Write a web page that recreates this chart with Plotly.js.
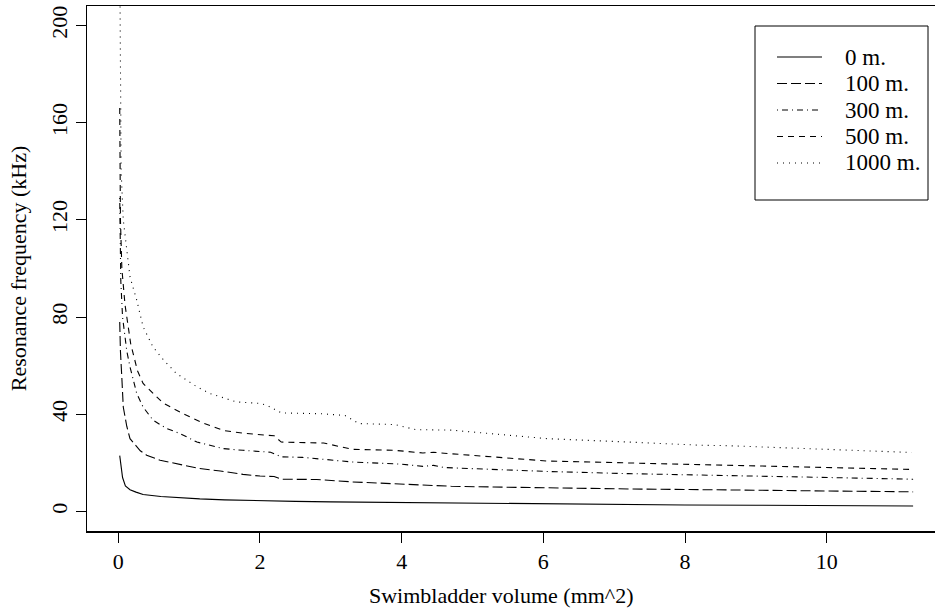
<!DOCTYPE html>
<html>
<head>
<meta charset="utf-8">
<script src="https://cdn.plot.ly/plotly-3.0.1.min.js"></script>
<style>html,body{margin:0;padding:0;background:#fff;overflow:hidden}</style>
</head>
<body>
<div id="chart" style="width:935px;height:611px"></div>
<script>
// Swimbladder volume (mm^2) and resonance frequency (kHz)
const x0 = [0.02, 0.04, 0.06, 0.1, 0.165, 0.25, 0.35, 0.6, 0.82, 1.15, 1.5, 2.0, 2.5, 3.0, 4.0, 5.0, 6.0, 7.0, 8.0, 9.0, 10.0, 11.22];
const y0 = [23, 17, 14, 10.5, 9, 8, 7, 6.2, 5.7, 5.2, 4.8, 4.4, 4.2, 4.0, 3.7, 3.3, 3.0, 2.9, 2.7, 2.6, 2.5, 2.3];

const x100 = [0.02, 0.03, 0.05, 0.07, 0.12, 0.165, 0.31, 0.4, 0.59, 0.82, 1.15, 1.44, 1.76, 2.0, 2.2, 2.3, 2.8, 3.3, 4.0, 4.7, 5.3, 6.05, 7.2, 8.6, 9.7, 11.22];
const y100 = [78, 66, 55, 43, 35, 30, 25, 23.2, 21.1, 19.7, 17.7, 16.7, 15.3, 14.6, 14.4, 13.3, 13.2, 12.2, 11.2, 10.4, 10.1, 9.9, 9.3, 8.9, 8.5, 8.1];

const x300 = [0.02, 0.035, 0.06, 0.095, 0.12, 0.165, 0.26, 0.35, 0.49, 0.68, 0.87, 1.11, 1.29, 1.48, 1.76, 2.0, 2.15, 2.3, 2.6, 3.3, 4.0, 4.3, 4.45, 4.6, 5.3, 6.05, 7.2, 8.2, 8.6, 9.7, 11.22];
const y300 = [129, 95, 80, 72, 66, 59.5, 48.6, 43, 37.6, 34.2, 32.1, 28.6, 27.3, 25.9, 25.2, 24.7, 24.4, 22.5, 22.3, 20.4, 19.5, 18.6, 19.0, 18.1, 17.3, 16.5, 15.6, 15.2, 14.8, 14.2, 13.3];

const x500 = [0.02, 0.03, 0.05, 0.095, 0.175, 0.27, 0.35, 0.49, 0.63, 0.91, 1.19, 1.49, 1.81, 2.1, 2.2, 2.3, 2.9, 3.3, 3.9, 4.3, 4.45, 4.6, 5.3, 6.05, 7.2, 8.6, 9.7, 11.22];
const y500 = [166, 120, 100, 85, 69, 58, 52.7, 48.6, 44.7, 40.3, 36.5, 33.3, 32.1, 31.4, 31.2, 28.6, 28.2, 25.6, 25.2, 24.1, 24.4, 24.0, 22.5, 20.8, 20.0, 19.1, 18.4, 17.3];

const x1000 = [0.02, 0.04, 0.07, 0.12, 0.165, 0.26, 0.35, 0.49, 0.64, 0.82, 1.11, 1.29, 1.67, 2.0, 2.1, 2.3, 2.9, 3.2, 3.4, 3.9, 4.2, 4.7, 5.2, 6.05, 7.2, 8.2, 8.6, 9.7, 11.2];
const y1000 = [230, 140, 120, 107.5, 96.5, 87, 76, 67.7, 62.3, 56.8, 51.3, 48.6, 45.1, 44.5, 43.7, 40.6, 40.2, 39.5, 36.2, 35.8, 33.7, 33.5, 32.1, 30.0, 28.6, 27.3, 27.1, 25.9, 24.3];

const seriesNames = ["0 m.", "100 m.", "300 m.", "500 m.", "1000 m."];
const xTicks = [0, 2, 4, 6, 8, 10];
const yTicks = [0, 40, 80, 120, 160, 200];
const xTitle = "Swimbladder volume (mm^2)";
const yTitle = "Resonance frequency (kHz)";

const xs = [x0, x100, x300, x500, x1000];
const ys = [y0, y100, y300, y500, y1000];
const dashes = ["solid", "10px,4px", "1px,4px,6px,4px", "6px,5px", "1px,5px"];

const traces = xs.map((xv, i) => ({
  type: "scatter", mode: "lines", x: xv, y: ys[i], name: seriesNames[i],
  line: {color: "#000", width: 1.1, dash: dashes[i], shape: "linear"},
  hoverinfo: "skip", showlegend: false
}));

const font = {family: "Liberation Serif, Times New Roman, serif", size: 22, color: "#000"};
const legFont = {family: "Liberation Serif, Times New Roman, serif", size: 23, color: "#000"};

// plot area in pixels (layout only)
const W = 935, H = 611, ML = 87, MR = 0, MT = 6, MB = 80;
const PW = W - ML - MR, PH = H - MT - MB;
const px2x = p => (p - ML) / PW;
const px2y = p => (H - MB - p) / PH;

// hand-built legend box, matching the R-style legend
const shapes = [{
  type: "rect", xref: "paper", yref: "paper",
  x0: px2x(755), x1: px2x(928), y0: px2y(200), y1: px2y(26),
  line: {color: "#000", width: 1}, fillcolor: "#fff", layer: "above"
}];
const annotations = [];
const rowY = [57, 83.5, 110, 136.5, 163];
seriesNames.forEach((nm, i) => {
  shapes.push({
    type: "line", xref: "paper", yref: "paper",
    x0: px2x(777), x1: px2x(822), y0: px2y(rowY[i]), y1: px2y(rowY[i]),
    line: {color: "#000", width: 1.1, dash: dashes[i]}, layer: "above"
  });
  annotations.push({
    xref: "paper", yref: "paper", x: px2x(843), y: px2y(rowY[i]),
    xanchor: "left", yanchor: "middle", text: nm, showarrow: false, font: legFont
  });
});
// x axis title, placed where R put it
annotations.push({
  xref: "paper", yref: "paper", x: px2x(501), y: px2y(595),
  xanchor: "center", yanchor: "middle", text: xTitle, showarrow: false, font: font
});

const layout = {
  width: W, height: H,
  margin: {l: ML, r: MR, t: MT, b: MB, pad: 0},
  paper_bgcolor: "#fff", plot_bgcolor: "#fff",
  font: font,
  showlegend: false,
  shapes: shapes,
  annotations: annotations,
  xaxis: {
    range: [-0.442, 11.529], tickvals: xTicks, ticktext: xTicks.map(String),
    ticks: "outside", ticklen: 10, tickwidth: 1, tickcolor: "#000",
    showline: true, linecolor: "#000", linewidth: 1.5, mirror: true,
    showgrid: false, zeroline: false, tickfont: font
  },
  yaxis: {
    range: [-8, 208], tickvals: yTicks, ticktext: yTicks.map(String),
    ticks: "outside", ticklen: 10, tickwidth: 1, tickcolor: "#000", tickangle: -90,
    showline: true, linecolor: "#000", linewidth: 1.5, mirror: false,
    showgrid: false, zeroline: false, tickfont: font,
    title: {text: yTitle, font: font, standoff: 14}
  }
};

Plotly.newPlot("chart", traces, layout, {staticPlot: true, displayModeBar: false});
</script>
</body>
</html>
